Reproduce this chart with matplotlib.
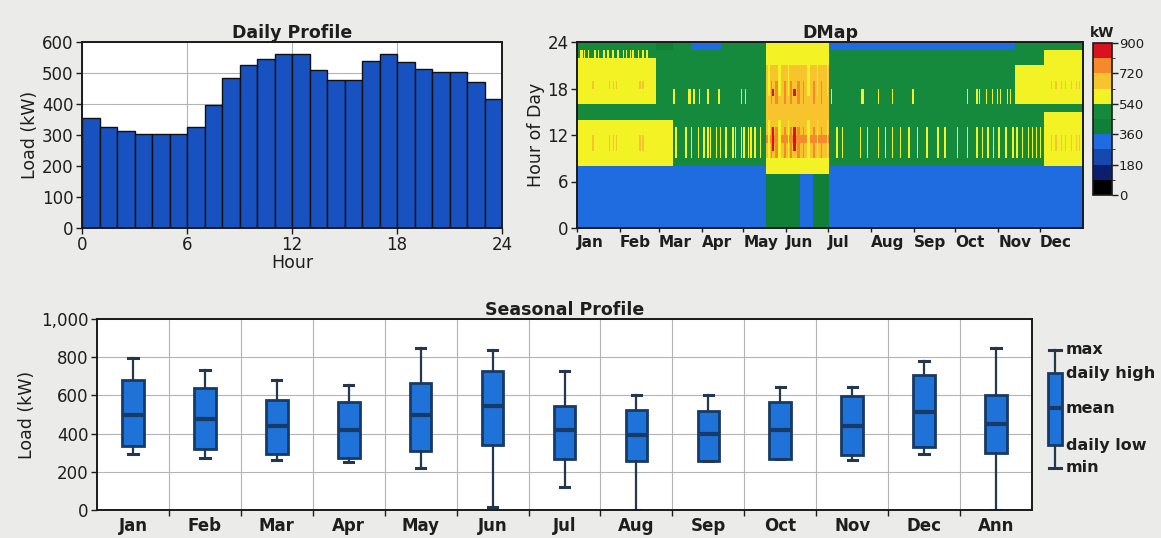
import numpy as np
import matplotlib
matplotlib.use("Agg")
import matplotlib.pyplot as plt
from matplotlib.colors import ListedColormap, BoundaryNorm
from matplotlib.ticker import FuncFormatter
from matplotlib.transforms import ScaledTranslation

# ---- Daily profile (kW, hour 0..23) ----
daily_load = [355, 325, 312, 303, 303, 303, 325, 398, 484, 527, 545, 561,
              561, 509, 478, 478, 540, 561, 534, 514, 502, 502, 472, 416]

# ---- DMap hourly profiles (kW, hour 0..23) ----
winter_prof = [300, 295, 290, 290, 290, 295, 310, 340, 565, 595, 610, 615,
               610, 595, 500, 490, 575, 600, 610, 605, 595, 585, 520, 470]
late_winter_prof = [295, 290, 285, 285, 285, 290, 305, 340, 560, 590, 600, 605,
                    595, 560, 480, 470, 490, 500, 500, 490, 480, 470, 460, 440]
spring_prof = [285, 280, 280, 275, 275, 280, 295, 330, 470, 490, 510, 520,
               510, 500, 480, 470, 480, 490, 490, 480, 470, 465, 460, 455]
spring_low_prof = [285, 280, 280, 275, 275, 280, 295, 330, 470, 490, 510, 520,
                   510, 500, 480, 470, 480, 490, 490, 480, 470, 460, 455, 345]
summer_prof = [420, 415, 410, 410, 410, 420, 440, 580, 620, 660, 700, 725,
               710, 670, 640, 640, 660, 690, 680, 660, 640, 620, 600, 590]
fall_prof = [280, 275, 270, 270, 270, 275, 290, 330, 465, 480, 500, 510,
             500, 490, 470, 460, 470, 480, 480, 470, 460, 460, 455, 345]
early_dec_prof = [290, 285, 280, 280, 280, 285, 300, 340, 470, 500, 520, 530,
                  520, 500, 480, 480, 575, 600, 600, 590, 570, 480, 470, 460]
dec_prof = [300, 295, 290, 290, 290, 300, 320, 350, 560, 600, 615, 620,
            615, 600, 560, 520, 590, 610, 620, 615, 605, 595, 580, 500]

# periods of the year (day of year) using each profile
period_start = [0, 57, 69, 82, 104, 136, 182, 316, 337]
period_end = [57, 69, 82, 104, 136, 182, 316, 337, 365]
period_prof = ["winter", "late_winter", "spring", "spring_low", "spring",
               "summer", "fall", "early_dec", "dec"]

# days with a short midday / evening peak outside the main seasons
mid_streak_days = [71, 78, 82, 87, 91, 94, 96, 100, 103, 107, 112, 114, 118,
                   120, 123, 125, 128, 132, 187, 191, 204, 209, 217, 222, 227,
                   233, 239, 245, 252, 260, 265, 274, 281, 288, 292, 296, 300,
                   304, 309, 314, 317, 321, 325, 328, 331, 334]
eve_streak_days = [69, 70, 80, 81, 84, 88, 94, 102, 118, 121, 183, 205, 206,
                   217, 227, 242, 281, 288, 290, 295, 299, 303, 305, 310, 312]
winter_late_days = [2, 3, 5, 8, 12, 13, 15, 19, 22, 25, 26, 29, 33, 35, 38,
                    40, 44, 47, 50]
warm_days = [11, 23, 26, 28, 45, 47, 342, 345, 349, 352, 356, 360, 362]
hot_days = [141, 156, 157]
summer_peak_days = [140, 143, 144, 149, 150, 154, 159, 160, 163, 170, 171, 176]
summer_mild_days = [138, 145, 146, 152, 166, 167, 173, 180]
summer_blue_nights = [161, 162, 163, 164, 165, 166, 167, 168, 169]

# ---- Seasonal profile ----
season_labels = ["Jan", "Feb", "Mar", "Apr", "May", "Jun", "Jul", "Aug",
                 "Sep", "Oct", "Nov", "Dec", "Ann"]
season_max = [798, 732, 679, 656, 847, 837, 728, 600, 600, 645, 645, 779, 846]
season_high = [681, 639, 575, 565, 667, 728, 544, 526, 516, 565, 596, 709, 604]
season_mean = [495, 477, 439, 418, 495, 547, 418, 395, 398, 421, 442, 512, 451]
season_low = [333, 319, 293, 272, 307, 342, 267, 254, 254, 267, 289, 330, 298]
season_min = [295, 272, 260, 253, 219, 18, 119, 0, 254, 267, 260, 295, 0]

legend_names = ["max", "daily high", "mean", "daily low", "min"]
legend_vals = [838, 717, 534, 340, 220]

month_names = ["Jan", "Feb", "Mar", "Apr", "May", "Jun", "Jul", "Aug", "Sep",
               "Oct", "Nov", "Dec"]
month_start = [0, 31, 59, 90, 120, 151, 181, 212, 243, 273, 304, 334]

cmap_colors = ["#000000", "#0b1f6e", "#1648b0", "#1f6ce0", "#108038",
               "#15893c", "#f2f224", "#f8c42e", "#f48a2c", "#d8121e"]
cb_levels = [0, 90, 180, 270, 360, 450, 540, 630, 720, 810, 900]

profiles = {"winter": winter_prof, "late_winter": late_winter_prof,
            "spring": spring_prof, "spring_low": spring_low_prof,
            "summer": summer_prof, "fall": fall_prof,
            "early_dec": early_dec_prof, "dec": dec_prof}

# build the 24 x 365 map
dmap = np.zeros((24, 365))
for s, e, p in zip(period_start, period_end, period_prof):
    dmap[:, s:e] = np.array(profiles[p], dtype=float)[:, None]
for d in mid_streak_days:
    dmap[9, d] = 550
    dmap[10:13, d] = 590
for d in eve_streak_days:
    dmap[16:18, d] = 590
for d in winter_late_days:
    dmap[22, d] = 580
for d in warm_days:
    dmap[10:12, d] = 680
    dmap[18, d] = 700
for d in summer_peak_days:
    dmap[9:13, d] = 760
    dmap[16:19, d] = 740
for d in hot_days:
    dmap[10:13, d] = 830
    dmap[17, d] = 830
for d in summer_mild_days:
    dmap[9:14, d] = 600
    dmap[17:21, d] = 600
for d in summer_blue_nights:
    dmap[0:7, d] = 300

TXT = "#1e1e1e"
plt.rcParams["font.family"] = ["DejaVu Sans"]
plt.rcParams["text.color"] = TXT
plt.rcParams["axes.labelcolor"] = TXT
plt.rcParams["xtick.color"] = TXT
plt.rcParams["ytick.color"] = TXT

W, H = 1161, 538
fig = plt.figure(figsize=(W / 100, H / 100), dpi=100)
fig.patch.set_facecolor("#ebebe9")


def box(x0, y0, x1, y1):
    return [x0 / W, 1 - y1 / H, (x1 - x0) / W, (y1 - y0) / H]


def frame(ax):
    for sp in ax.spines.values():
        sp.set_color("#1a1a1a")
        sp.set_linewidth(1.4)
    ax.tick_params(direction="out", length=4, width=1, pad=2)


# ---- Daily Profile ----
ax_d = fig.add_axes(box(82, 42, 502, 228))
ax_d.bar(range(24), daily_load, width=1, align="edge", color="#1752c0",
         edgecolor="#101010", linewidth=1, zorder=2)
ax_d.set_xlim(0, 24)
ax_d.set_ylim(0, 600)
ax_d.set_xticks([0, 6, 12, 18, 24])
ax_d.set_yticks(range(0, 601, 100))
ax_d.grid(True, color="#b4b4b4", linewidth=0.8, zorder=0)
ax_d.set_axisbelow(True)
ax_d.tick_params(labelsize=12)
ax_d.set_xlabel("Hour", fontsize=12.5, labelpad=0)
ax_d.set_ylabel("Load (kW)", fontsize=12.5, labelpad=2)
ax_d.set_title("Daily Profile", fontsize=12.5, fontweight="bold", pad=2)
frame(ax_d)

# ---- DMap ----
ax_m = fig.add_axes(box(577, 42, 1083, 228))
cmap = ListedColormap(cmap_colors)
norm = BoundaryNorm(cb_levels, cmap.N)
im = ax_m.imshow(dmap, origin="lower", extent=[0, 365, 0, 24], aspect="auto",
                 cmap=cmap, norm=norm, interpolation="nearest")
ax_m.set_xlim(0, 365)
ax_m.set_ylim(0, 24)
ax_m.set_yticks([0, 6, 12, 18, 24])
ax_m.set_xticks(month_start)
ax_m.set_xticklabels(month_names, fontsize=11, fontweight="bold", ha="left")
off = ScaledTranslation(2 / 72, 0, fig.dpi_scale_trans)
for lbl in ax_m.get_xticklabels():
    lbl.set_transform(lbl.get_transform() + off)
ax_m.tick_params(axis="y", labelsize=12)
ax_m.set_ylabel("Hour of Day", fontsize=12.5, labelpad=2)
ax_m.set_title("DMap", fontsize=12.5, fontweight="bold", pad=2)
frame(ax_m)
ax_m.tick_params(axis="x", length=3)

ax_c = fig.add_axes(box(1093, 43, 1112, 195))
cb = fig.colorbar(im, cax=ax_c, ticks=[0, 180, 360, 540, 720, 900])
cb.outline.set_edgecolor("#1a1a1a")
cb.outline.set_linewidth(1.2)
ax_c.tick_params(labelsize=9.5, length=4, width=1, pad=1)
ax_c.set_title("kW", fontsize=10, fontweight="bold", pad=4)

# ---- Seasonal Profile ----
ax_s = fig.add_axes(box(97, 319, 1032, 510))
stats = []
for i in range(len(season_labels)):
    stats.append(dict(med=season_mean[i], q1=season_low[i], q3=season_high[i],
                      whislo=season_min[i], whishi=season_max[i],
                      label=season_labels[i]))
box_kw = dict(patch_artist=True, showfliers=False,
              boxprops=dict(facecolor="#1f72d8", edgecolor="#173a66", linewidth=2),
              medianprops=dict(color="#173a66", linewidth=3),
              whiskerprops=dict(color="#23384f", linewidth=1.6),
              capprops=dict(color="#23384f", linewidth=2.2))
ax_s.bxp(stats, positions=range(1, 14), widths=0.3, capwidths=0.13, **box_kw)
ax_s.set_xlim(0.5, 13.5)
ax_s.set_ylim(0, 1000)
ax_s.set_yticks(range(0, 1001, 200))
ax_s.yaxis.set_major_formatter(FuncFormatter(lambda v, p: f"{v:,.0f}"))
ax_s.set_xticks(range(1, 14))
ax_s.set_xticklabels(season_labels, fontsize=12, fontweight="bold")
ax_s.set_xticks(np.arange(1.5, 13, 1), minor=True)
ax_s.tick_params(labelsize=12)
frame(ax_s)
ax_s.tick_params(axis="x", which="major", length=0, pad=5)
ax_s.tick_params(axis="x", which="minor", length=4, width=1, direction="out")
ax_s.grid(True, axis="y", which="major", color="#b4b4b4", linewidth=0.8)
ax_s.grid(True, axis="x", which="minor", color="#b4b4b4", linewidth=0.8)
ax_s.set_axisbelow(True)
ax_s.set_ylabel("Load (kW)", fontsize=12.5, labelpad=4)
ax_s.set_title("Seasonal Profile", fontsize=12.5, fontweight="bold", pad=2)

# legend box
ax_l = fig.add_axes(box(1043, 319, 1067, 510))
leg = [dict(whishi=legend_vals[0], q3=legend_vals[1], med=legend_vals[2],
            q1=legend_vals[3], whislo=legend_vals[4])]
ax_l.bxp(leg, positions=[1], widths=0.6, capwidths=0.5, **box_kw)
ax_l.set_xlim(0.5, 1.5)
ax_l.set_ylim(0, 1000)
ax_l.axis("off")
for name, v in zip(legend_names, legend_vals):
    ax_l.text(1.46, v, name, fontsize=11.5, fontweight="bold", ha="left",
              va="center", clip_on=False)

fig.savefig("out.png", dpi=100, facecolor=fig.get_facecolor())
